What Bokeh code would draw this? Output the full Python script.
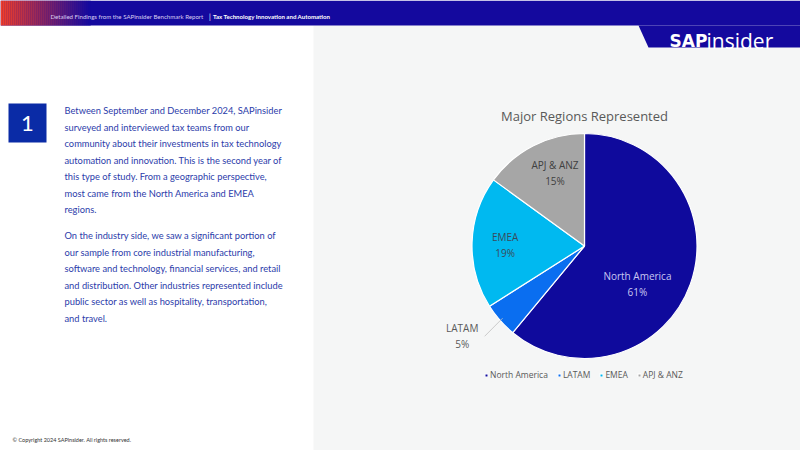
import math
from bokeh.plotting import figure
from bokeh.models import Range1d, ColumnDataSource, Legend, LegendItem
from bokeh.core.properties import value
from bokeh.embed import file_html
from bokeh.resources import INLINE

# ---------------- data ----------------
regions = ["North America", "LATAM", "EMEA", "APJ & ANZ"]
shares = [61, 5, 19, 15]
slice_colors = ["#0f0a9c", "#0a6ef0", "#00b9f0", "#a6a6a6"]

chart_title = "Major Regions Represented"
header_left = "Detailed Findings from the SAPinsider Benchmark Report"
header_sep = "|"
header_right = "Tax Technology Innovation and Automation"
logo_a = "SAP"
logo_b = "insider"
footer = "\u00a9 Copyright 2024 SAPinsider. All rights reserved."
para1 = [
    "Between September and December 2024, SAPinsider",
    "surveyed and interviewed tax teams from our",
    "community about their investments in tax technology",
    "automation and innovation. This is the second year of",
    "this type of study. From a geographic perspective,",
    "most came from the North America and EMEA",
    "regions.",
]
para2 = [
    "On the industry side, we saw a significant portion of",
    "our sample from core industrial manufacturing,",
    "software and technology, financial services, and retail",
    "and distribution. Other industries represented include",
    "public sector as well as hospitality, transportation,",
    "and travel.",
]

# ---------------- layout / style ----------------
W, H = 800, 450
def Y(v):
    return H - v

BLUE = "#14099e"
TEXT_BLUE = "#2b3caa"
GRAY = "#595959"
CX, CY, R = 584, Y(245.5), 112.5
LABEL_R = [0.58, 1.35, 0.705, 0.70]
LABEL_DA = [-16, -5, 1, -5]
LABEL_COLORS = ["#c9c8f2", GRAY, "#3a4a5a", "#404040"]

p = figure(width=W, height=H, x_range=Range1d(0, W), y_range=Range1d(0, H),
           x_axis_type=None, y_axis_type=None, toolbar_location=None,
           output_backend="svg", min_border=0)
p.grid.visible = False
p.outline_line_color = None
p.background_fill_color = "white"
p.border_fill_color = "white"

# right panel background
p.quad(left=[313], right=[W], bottom=[0], top=[Y(25)], fill_color="#f5f6f6", line_color=None)

# header bar
p.quad(left=[0], right=[W], bottom=[Y(25)], top=[H], fill_color=BLUE, line_color=None)
c0 = (242, 62, 40)
c1 = (20, 9, 158)
n = 45
gl, gr, gc = [], [], []
for i in range(n):
    t = i / (n - 1)
    col = tuple(int(round(c0[k] + (c1[k] - c0[k]) * t)) for k in range(3))
    gl.append(i * 2.0)
    gr.append(i * 2.0 + 2.2)
    gc.append("#%02x%02x%02x" % col)
p.quad(left=gl, right=gr, bottom=Y(25), top=H, fill_color=gc, line_color=None)

# logo band
p.patch([638, W, W, 648], [Y(25), Y(25), Y(47), Y(47)], fill_color=BLUE, line_color=None)
p.text([669], [Y(40)], text=[logo_a], text_font=value("DejaVu Sans"), text_font_style="bold",
       text_font_size="17px", text_color="white", text_baseline="alphabetic", text_align="left")
p.text([706], [Y(40)], text=[logo_b], text_font=value("Open Sans"), text_font_style="normal",
       text_font_size="21px", text_color="white", text_baseline="alphabetic", text_align="left")

# header text
p.text([50], [Y(16)], text=[header_left], text_font=value("Lato"), text_font_size="6.1px",
       text_color="#d9cdf2", text_baseline="middle")
p.text([208.5], [Y(16)], text=[header_sep], text_font=value("Lato"), text_font_size="7px",
       text_color="white", text_baseline="middle")
p.text([212.5], [Y(16)], text=[header_right], text_font=value("Lato"), text_font_style="bold",
       text_font_size="6.1px", text_color="white", text_baseline="middle")

# number box
p.quad(left=[8], right=[46], bottom=[Y(142)], top=[Y(103)], fill_color="#0a2ba6", line_color=None)
p.text([27], [Y(122.5)], text=["1"], text_font=value("Lato"), text_font_size="22px",
       text_color="white", text_align="center", text_baseline="middle")

# body text
p.text([64] * len(para1), [Y(110 + 16.5 * i) for i in range(len(para1))], text=para1,
       text_font=value("Lato"), text_font_size="9.3px", text_color=TEXT_BLUE, text_baseline="middle")
p.text([64] * len(para2), [Y(235 + 16.6 * i) for i in range(len(para2))], text=para2,
       text_font=value("Lato"), text_font_size="9.3px", text_color=TEXT_BLUE, text_baseline="middle")

# footer
p.text([12], [Y(439)], text=[footer], text_font=value("Lato"), text_font_size="5.5px",
       text_color="#333333", text_baseline="middle")

# ---------------- pie ----------------
total = float(sum(shares))
starts, ends, mids = [], [], []
cum = 0.0
for s in shares:
    a0 = 90 - cum / total * 360
    cum += s
    a1 = 90 - cum / total * 360
    starts.append(math.radians(a0))
    ends.append(math.radians(a1))
    mids.append((a0 + a1) / 2)

src = ColumnDataSource(dict(x=[CX] * len(shares), y=[CY] * len(shares), start=starts, end=ends,
                            color=slice_colors, name=regions))
wr = p.wedge(x="x", y="y", radius=R, start_angle="start", end_angle="end", direction="clock",
             fill_color="color", line_color="white", line_width=1.2, source=src)

lx, ly, lt = [], [], []
for i, (reg, s) in enumerate(zip(regions, shares)):
    a = math.radians(mids[i] + LABEL_DA[i])
    lx.append(CX + LABEL_R[i] * R * math.cos(a))
    ly.append(CY + LABEL_R[i] * R * math.sin(a))
    lt.append("%s\n%d%%" % (reg, round(s / total * 100)))
p.text(lx, ly, text=lt, text_font=value("Open Sans"), text_font_size="10px",
       text_color=LABEL_COLORS, text_align="center", text_baseline="middle", text_line_height=1.1)

# leader line for the small outside label
am = math.radians(mids[1])
p.line([CX + 0.97 * R * math.cos(am), CX + 1.16 * R * math.cos(am) - 2],
       [CY + 0.97 * R * math.sin(am), CY + 1.16 * R * math.sin(am) - 4],
       line_color="#bfbfbf", line_width=0.8)

# title
p.text([CX], [Y(115)], text=[chart_title], text_font=value("Open Sans"), text_font_size="13px",
       text_color=GRAY, text_align="center", text_baseline="middle")

legend = Legend(items=[LegendItem(label=reg, renderers=[wr], index=i) for i, reg in enumerate(regions)],
                orientation="horizontal", location=(484, 70), glyph_width=4, glyph_height=4,
                label_text_font="Open Sans", label_text_font_size="8.5px", label_text_color=GRAY,
                label_standoff=2, spacing=9, padding=0, margin=0, label_height=10,
                border_line_alpha=0, background_fill_alpha=0)
p.add_layout(legend, "center")

open("out.html", "w").write(file_html(p, INLINE))
